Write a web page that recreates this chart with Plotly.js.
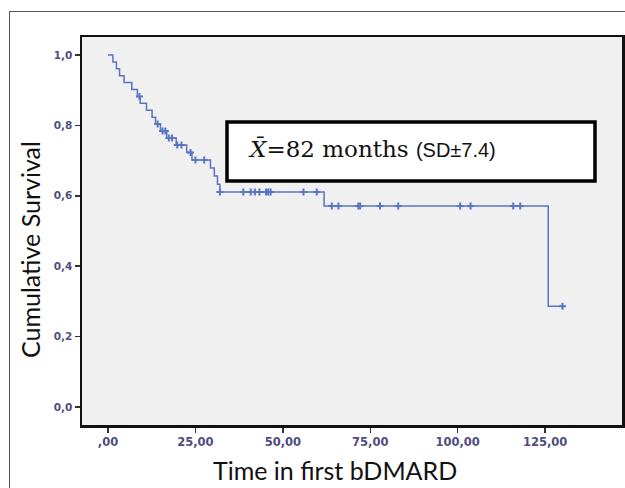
<!DOCTYPE html>
<html>
<head>
<meta charset="utf-8">
<script src="https://cdn.plot.ly/plotly-3.0.1.min.js"></script>
<style>
  html, body { margin: 0; padding: 0; background: #fff; }
  #wrap { position: relative; width: 625px; height: 488px; overflow: hidden; }
  #border { position: absolute; left: 9px; top: 11px; width: 700px; height: 600px;
            border-left: 1.5px solid #555; border-top: 1.5px solid #555; }
  #chart { position: absolute; left: 0; top: 0; width: 625px; height: 488px; }
</style>
</head>
<body>
<div id="wrap">
  <div id="border"></div>
  <div id="chart"></div>
</div>
<script>
// Kaplan-Meier data
const eventTimes = [1.4, 2.4, 3.3, 4.6, 6.8, 8.4, 9.2, 11.0, 12.6, 13.6, 15.0, 16.8, 19.5, 22.5, 24.0, 29.3, 30.4, 31.3, 32.0, 61.8, 125.9];
const survival   = [0.980, 0.961, 0.941, 0.922, 0.902, 0.882, 0.863, 0.843, 0.823, 0.804, 0.784, 0.764, 0.744, 0.723, 0.702, 0.679, 0.656, 0.633, 0.611, 0.571, 0.286];
const censorTimes = [9.0, 14.2, 15.6, 16.4, 17.4, 18.3, 19.8, 21.0, 23.6, 25.0, 27.5, 32.0, 38.7, 40.8, 42.0, 43.3, 45.2, 45.8, 46.5, 55.9, 59.7, 64.0, 65.9, 71.6, 72.1, 77.8, 83.0, 100.7, 103.7, 115.9, 117.9, 130.0];
const lastTime = 130.0;

const xTickVals = [0, 25, 50, 75, 100, 125];
const xTickText = [",00", "25,00", "50,00", "75,00", "100,00", "125,00"];
const yTickVals = [0, 0.2, 0.4, 0.6, 0.8, 1.0];
const yTickText = ["0,0", "0,2", "0,4", "0,6", "0,8", "1,0"];

const xTitle = "Time in first bDMARD";
const yTitle = "Cumulative Survival";

function survAt(t) {
  let s = 1;
  for (let i = 0; i < eventTimes.length; i++) { if (eventTimes[i] <= t) s = survival[i]; }
  return s;
}

const stepX = [0].concat(eventTimes, [lastTime]);
const stepY = [1].concat(survival, [survival[survival.length - 1]]);
const censorY = censorTimes.map(survAt);

const lineColor = "#5a74c6";
const tickColor = "#4d4d80";

const traces = [
  { x: stepX, y: stepY, type: "scatter", mode: "lines", line: { shape: "hv", color: lineColor, width: 1.5 }, hoverinfo: "skip" },
  { x: censorTimes, y: censorY, type: "scatter", mode: "markers",
    marker: { symbol: "cross-thin", size: 5, color: lineColor, line: { color: lineColor, width: 2 } }, hoverinfo: "skip" }
];

const layout = {
  width: 625, height: 488,
  margin: { l: 82, r: 3, t: 37, b: 63 },
  paper_bgcolor: "rgba(0,0,0,0)",
  plot_bgcolor: "#f0f0f0",
  showlegend: false,
  xaxis: {
    range: [-7.44, 147.0], tickvals: xTickVals, ticktext: xTickText,
    showgrid: false, zeroline: false, showline: true, mirror: true, linecolor: "#111", linewidth: 2.5,
    ticks: "outside", ticklen: 5, tickwidth: 1.5, tickcolor: "#333",
    tickfont: { family: "DejaVu Sans", size: 11.5, color: tickColor, weight: "bold" }
  },
  yaxis: {
    range: [-0.051, 1.051], tickvals: yTickVals, ticktext: yTickText,
    showgrid: false, zeroline: false, showline: true, mirror: true, linecolor: "#111", linewidth: 2.5,
    ticks: "outside", ticklen: 5, tickwidth: 1.5, tickcolor: "#333",
    tickfont: { family: "DejaVu Sans", size: 10.5, color: tickColor, weight: "bold" }
  },
  shapes: [
    { type: "rect", xref: "paper", yref: "paper",
      x0: (227 - 82) / 540, x1: (595 - 82) / 540, y0: (425 - 181) / 388, y1: (425 - 122) / 388,
      line: { color: "#000", width: 3.5 }, fillcolor: "#fff" }
  ],
  annotations: [
    { xref: "paper", yref: "paper", x: (246 - 82) / 540, y: (425 - 149) / 388, xanchor: "left", yanchor: "middle",
      showarrow: false,
      text: "<i>X\u0304</i>=82 months <span style=\"font-family:'Liberation Sans';font-size:20px\">(SD\u00b17.4)</span>",
      font: { family: "DejaVu Serif", size: 23, color: "#111" } },
    { xref: "paper", yref: "paper", x: (335 - 82) / 540, y: (425 - 470) / 388, xanchor: "center", yanchor: "middle",
      showarrow: false, text: xTitle, font: { family: "Lato", size: 25, color: "#111" } },
    { xref: "paper", yref: "paper", x: (30 - 82) / 540, y: (425 - 250) / 388, xanchor: "center", yanchor: "middle",
      showarrow: false, textangle: -90, text: yTitle, font: { family: "Lato", size: 25, color: "#111" } }
  ]
};

Plotly.newPlot("chart", traces, layout, { staticPlot: true, displayModeBar: false });
</script>
</body>
</html>
